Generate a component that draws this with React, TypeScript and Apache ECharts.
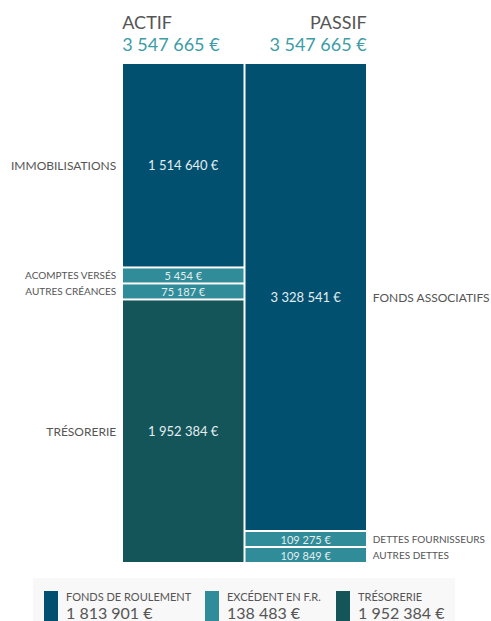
import React, { useEffect, useRef } from "react";
import * as echarts from "echarts";

const categories = ["ACTIF", "PASSIF"];
const totals = [3547665, 3547665];
const actifLabels = ["IMMOBILISATIONS", "ACOMPTES VERSÉS", "AUTRES CRÉANCES", "TRÉSORERIE"];
const actifValues = [1514640, 5454, 75187, 1952384];
const passifLabels = ["FONDS ASSOCIATIFS", "DETTES FOURNISSEURS", "AUTRES DETTES"];
const passifValues = [3328541, 109275, 109849];
const legendLabels = ["FONDS DE ROULEMENT", "EXCÉDENT EN F.R.", "TRÉSORERIE"];
const legendValues = [1813901, 138483, 1952384];

const DARK = "#02506f";
const TEAL = "#2f8c98";
const DTEAL = "#14555a";
const actifColors = [DARK, TEAL, TEAL, DTEAL];
const passifColors = [DARK, TEAL, TEAL];
const legendColors = [DARK, TEAL, DTEAL];

const FONT = "Lato, 'Open Sans', sans-serif";
const fmt = (n: number) => String(n).replace(/\B(?=(\d{3})+(?!\d))/g, " ") + " €";

// minimum visible share so that small items stay readable
const MIN_SHARE = 0.032;
function displayValues(vals: number[], total: number) {
  const min = total * MIN_SHARE;
  const small = vals.map((v) => v < min);
  const fixed = small.filter(Boolean).length * min;
  const bigSum = vals.reduce((s, v, i) => (small[i] ? s : s + v), 0);
  return vals.map((v, i) => (small[i] ? min : (v * (total - fixed)) / bigSum));
}

export default function App() {
  const ref = useRef<HTMLDivElement>(null);
  useEffect(() => {
    document.body.style.margin = "0";
    const chart = echarts.init(ref.current!, null, { renderer: "svg" });
    const aDisp = displayValues(actifValues, totals[0]);
    const pDisp = displayValues(passifValues, totals[1]);
    const series: any[] = [];
    const mk = (name: string, disp: number, real: number, color: string, col: number) => ({
      type: "bar",
      name,
      stack: "s",
      barWidth: "100%",
      data: col === 0 ? [disp, null] : [null, disp],
      itemStyle: { color, borderColor: "#ffffff", borderWidth: 1 },
      label: {
        show: true,
        position: "inside",
        formatter: () => fmt(real),
        color: "#e4eef0",
        fontFamily: FONT,
        fontSize: real < totals[0] * MIN_SHARE ? 11 : 13,
      },
    });
    actifLabels.forEach((n, i) => series.push(mk(n, aDisp[i], actifValues[i], actifColors[i], 0)));
    passifLabels.forEach((n, i) => series.push(mk(n, pDisp[i], passifValues[i], passifColors[i], 1)));

    const option: any = {
      animation: false,
      grid: { left: 122, right: 124, top: 63, bottom: 58 },
      xAxis: { type: "category", data: categories, show: false },
      yAxis: { type: "value", min: 0, max: totals[0], inverse: true, show: false },
      series,
    };
    chart.setOption(option);

    const graphics: any[] = [];
    const side = (labels: string[], disp: number[], col: number) => {
      let acc = 0;
      labels.forEach((l, i) => {
        const mid = acc + disp[i] / 2;
        acc += disp[i];
        const p = chart.convertToPixel({ gridIndex: 0 }, [categories[col], mid]) as number[];
        const small = disp[i] <= totals[0] * MIN_SHARE + 1;
        graphics.push({
          type: "text",
          x: col === 0 ? p[0] - 61 - 6 : p[0] + 61 + 6,
          y: p[1],
          style: {
            text: l,
            align: col === 0 ? "right" : "left",
            verticalAlign: "middle",
            fill: "#555555",
            font: `${small ? 10 : 12}px ${FONT}`,
          },
        });
      });
    };
    side(actifLabels, aDisp, 0);
    side(passifLabels, pDisp, 1);

    const leftEdge = chart.convertToPixel({ gridIndex: 0 }, [categories[0], 0]) as number[];
    const rightEdge = chart.convertToPixel({ gridIndex: 0 }, [categories[1], 0]) as number[];
    const lx = leftEdge[0] - 61;
    const rx = rightEdge[0] + 61;
    graphics.push(
      { type: "text", x: lx, y: 22, style: { text: categories[0], align: "left", verticalAlign: "middle", fill: "#555555", font: `18px ${FONT}` } },
      { type: "text", x: lx, y: 44, style: { text: fmt(totals[0]), align: "left", verticalAlign: "middle", fill: "#3c9ca7", font: `18px ${FONT}` } },
      { type: "text", x: rx, y: 22, style: { text: categories[1], align: "right", verticalAlign: "middle", fill: "#555555", font: `18px ${FONT}` } },
      { type: "text", x: rx, y: 44, style: { text: fmt(totals[1]), align: "right", verticalAlign: "middle", fill: "#3c9ca7", font: `18px ${FONT}` } }
    );

    graphics.push({ type: "rect", shape: { x: 33, y: 578, width: 422, height: 43 }, style: { fill: "#f8f8f8" }, z: -1 });
    const lxs = [44, 205, 336];
    legendLabels.forEach((l, i) => {
      graphics.push(
        { type: "rect", shape: { x: lxs[i], y: 591, width: 14, height: 30 }, style: { fill: legendColors[i] } },
        { type: "text", x: lxs[i] + 22, y: 596, style: { text: l, verticalAlign: "middle", fill: "#555555", font: `11px ${FONT}` } },
        { type: "text", x: lxs[i] + 22, y: 612, style: { text: fmt(legendValues[i]), verticalAlign: "middle", fill: "#555555", font: `16px ${FONT}` } }
      );
    });
    chart.setOption({ graphic: graphics });
    return () => chart.dispose();
  }, []);
  return <div ref={ref} style={{ width: 491, height: 621 }} />;
}
